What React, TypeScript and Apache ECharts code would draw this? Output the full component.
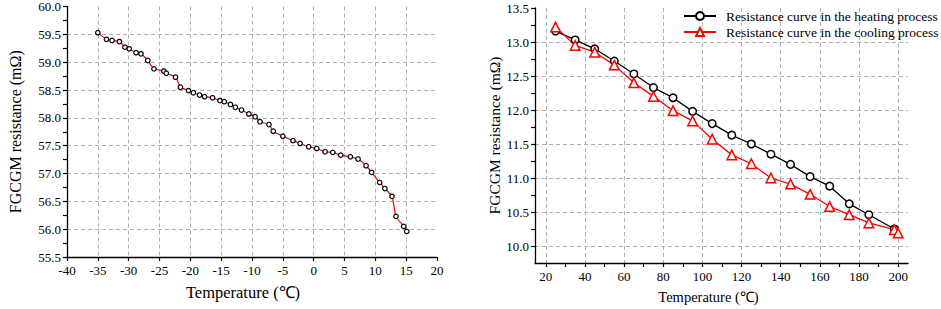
import React, { useEffect, useRef } from "react";
import * as echarts from "echarts";

// ---- Left chart data (temperature in ℃, resistance in mΩ)
const leftTemps = [
  -35, -33.6, -32.7, -31.5, -30.6, -29.9, -28.8, -28.0, -26.9, -25.9, -24.3, -23.9,
  -22.4, -21.6, -20.3, -19.5, -18.5, -17.7, -16.4, -15.2, -14.5, -13.5, -12.7, -11.7,
  -10.5, -9.5, -8.7, -7.25, -6.55, -5.0, -3.35, -2.2, -0.8, 0.5, 1.85, 3.1, 4.4, 5.95,
  7.2, 8.5, 9.4, 10.7, 11.55, 12.7, 13.35, 14.6, 15.1,
];
const leftResist = [
  59.53, 59.41, 59.39, 59.37, 59.27, 59.24, 59.17, 59.15, 59.03, 58.88, 58.84, 58.8,
  58.73, 58.55, 58.49, 58.45, 58.41, 58.38, 58.36, 58.31, 58.29, 58.24, 58.19, 58.14,
  58.07, 58.02, 57.93, 57.88, 57.76, 57.67, 57.59, 57.54, 57.48, 57.45, 57.39, 57.38,
  57.33, 57.3, 57.26, 57.14, 57.02, 56.84, 56.73, 56.59, 56.23, 56.05, 55.96,
];

// ---- Right chart data
const heatTemps = [25, 35, 45, 55, 65, 75, 85, 95, 105, 115, 125, 135, 145, 155, 165, 175, 185, 198];
const heatResist = [
  13.16, 13.03, 12.9, 12.72, 12.53, 12.33, 12.18, 11.98, 11.8, 11.63, 11.5, 11.35, 11.2,
  11.02, 10.88, 10.62, 10.46, 10.25,
];
const coolTemps = [25, 35, 45, 55, 65, 75, 85, 95, 105, 115, 125, 135, 145, 155, 165, 175, 185, 198, 200];
const coolResist = [
  13.22, 12.95, 12.85, 12.66, 12.4, 12.2, 11.99, 11.84, 11.57, 11.34, 11.21, 11.0, 10.91,
  10.76, 10.58, 10.46, 10.34, 10.24, 10.19,
];

// ---- Tick values
const rightXLabels = [20, 40, 60, 80, 100, 120, 140, 160, 180, 200];
const rightXTicks = [20, 30, 40, 50, 60, 70, 80, 90, 100, 110, 120, 130, 140, 150, 160, 170, 180, 190, 200];
const rightYTicks = [10, 10.25, 10.5, 10.75, 11, 11.25, 11.5, 11.75, 12, 12.25, 12.5, 12.75, 13, 13.25, 13.5];

const heatName = "Resistance curve in the heating process";
const coolName = "Resistance curve in the cooling process";

const FONT = "Liberation Serif, Times New Roman, serif";

export default function App() {
  const ref = useRef<HTMLDivElement>(null);

  useEffect(() => {
    if (!ref.current) return;
    const chart = echarts.init(ref.current, undefined, { renderer: "svg" });

    const axisLine = { show: true, onZero: false, lineStyle: { color: "#000", width: 1.3 } };
    const tickStyle = { color: "#000", width: 1.2 };
    const split = {
      show: true,
      showMinLine: false,
      showMaxLine: false,
      lineStyle: { color: "#b0b0b0", type: [4, 3] as any, width: 1 },
    };
    const label = (size: number, margin: number) => ({
      color: "#000",
      fontSize: size,
      fontFamily: FONT,
      margin,
    });

    const option: any = {
      animation: false,
      backgroundColor: "#fff",
      textStyle: { fontFamily: FONT },
      grid: [
        { left: 67, right: 504, top: 5, bottom: 52 },
        { left: 535, right: 33, top: 8, bottom: 46 },
      ],
      legend: {
        orient: "vertical",
        left: 678,
        top: 4,
        itemWidth: 32,
        itemHeight: 10,
        itemGap: 2,
        data: [heatName, coolName],
        textStyle: {
          color: "#000",
          fontSize: 13.5,
          fontFamily: FONT,
          lineHeight: 14,
          padding: [0, 0, 0, 5],
        },
      },
      xAxis: [
        {
          gridIndex: 0,
          type: "value",
          min: -40,
          max: 20,
          interval: 5,
          axisLine,
          axisTick: { show: true, length: 4, lineStyle: tickStyle },
          axisLabel: label(13, 7),
          splitLine: split,
          name: "Temperature (℃)",
          nameLocation: "middle",
          nameGap: 27,
          nameTextStyle: { color: "#000", fontSize: 16.5, fontFamily: FONT, padding: [0, 18, 0, 0] },
        },
        {
          gridIndex: 1,
          type: "value",
          min: 14.5,
          max: 205,
          minInterval: 20,
          maxInterval: 20,
          axisLine,
          axisTick: { show: false },
          axisLabel: { ...label(13, 7), customValues: rightXLabels },
          splitLine: split,
          name: "Temperature (℃)",
          nameLocation: "middle",
          nameGap: 26,
          nameTextStyle: { color: "#000", fontSize: 14.5, fontFamily: FONT, padding: [0, 26, 0, 0] },
        },
        {
          gridIndex: 1,
          type: "value",
          position: "bottom",
          min: 14.5,
          max: 205,
          axisLine: { show: false, onZero: false },
          axisTick: { show: true, length: 4, lineStyle: tickStyle, customValues: rightXTicks },
          axisLabel: { show: false },
          splitLine: { show: false },
        },
      ],
      yAxis: [
        {
          gridIndex: 0,
          type: "value",
          min: 55.5,
          max: 60,
          interval: 0.5,
          axisLine,
          axisTick: { show: true, length: 4, lineStyle: tickStyle },
          minorTick: { show: true, splitNumber: 2, length: 4, lineStyle: tickStyle },
          axisLabel: { ...label(13, 6), formatter: (v: number) => v.toFixed(1) },
          splitLine: split,
          name: "FGCGM resistance (mΩ)",
          nameLocation: "middle",
          nameGap: 44,
          nameTextStyle: { color: "#000", fontSize: 16, fontFamily: FONT },
        },
        {
          gridIndex: 1,
          type: "value",
          min: 9.75,
          max: 13.5,
          minInterval: 0.5,
          maxInterval: 0.5,
          axisLine,
          axisTick: { show: false },
          axisLabel: { ...label(13, 6), showMinLabel: false, formatter: (v: number) => v.toFixed(1) },
          splitLine: split,
          name: "FGCGM resistance (mΩ)",
          nameLocation: "middle",
          nameGap: 32,
          nameTextStyle: { color: "#000", fontSize: 15.5, fontFamily: FONT },
        },
        {
          gridIndex: 1,
          type: "value",
          position: "left",
          min: 9.75,
          max: 13.5,
          axisLine: { show: false, onZero: false },
          axisTick: { show: true, length: 4, lineStyle: tickStyle, customValues: rightYTicks },
          axisLabel: { show: false },
          splitLine: { show: false },
        },
      ],
      series: [
        {
          type: "line",
          xAxisIndex: 0,
          yAxisIndex: 0,
          data: leftTemps.map((t, i) => [t, leftResist[i]]),
          smooth: 0.2,
          symbol: "circle",
          symbolSize: 4.5,
          lineStyle: { color: "#ff0000", width: 1.2 },
          itemStyle: { color: "#fff", borderColor: "#000", borderWidth: 1.2 },
        },
        {
          name: heatName,
          type: "line",
          xAxisIndex: 1,
          yAxisIndex: 1,
          data: heatTemps.map((t, i) => [t, heatResist[i]]),
          symbol: "circle",
          symbolSize: 7.5,
          lineStyle: { color: "#000", width: 1.3 },
          itemStyle: { color: "#fff", borderColor: "#000", borderWidth: 1.5 },
        },
        {
          name: coolName,
          type: "line",
          xAxisIndex: 1,
          yAxisIndex: 1,
          data: coolTemps.map((t, i) => [t, coolResist[i]]),
          symbol: "triangle",
          symbolSize: 9.5,
          lineStyle: { color: "#ff0000", width: 1.3 },
          itemStyle: { color: "#fff", borderColor: "#ff0000", borderWidth: 1.5 },
        },
      ],
    };

    chart.setOption(option);
    return () => chart.dispose();
  }, []);

  return (
    <div
      ref={ref}
      style={{ position: "fixed", left: 0, top: 0, width: 941, height: 309, background: "#fff" }}
    />
  );
}
